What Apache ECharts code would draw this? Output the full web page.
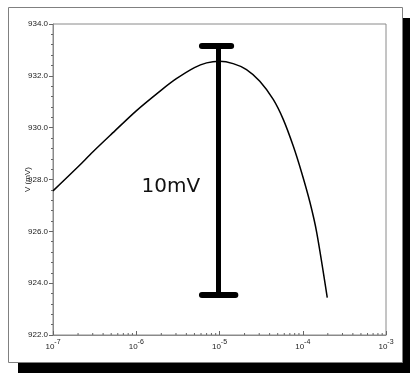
<!DOCTYPE html>
<html>
<head>
<meta charset="utf-8">
<script src="https://cdn.jsdelivr.net/npm/echarts@6/dist/echarts.min.js"></script>
<style>
html,body{margin:0;padding:0;background:#fff;}
#chart{width:410px;height:374px;}
</style>
</head>
<body>
<div id="chart"></div>
<script>
// Data
var xValues = [1e-7, 2e-7, 3e-7, 5e-7, 1e-6, 2e-6, 3e-6, 5e-6, 7e-6, 1e-5, 1.46e-5, 2.11e-5, 3.05e-5, 4.42e-5, 5.83e-5, 7.69e-5, 9.69e-5, 1.22e-4, 1.47e-4, 1.97e-4];
var vValues = [927.56, 928.49, 929.06, 929.74, 930.65, 931.45, 931.88, 932.32, 932.5, 932.56, 932.47, 932.24, 931.79, 931.09, 930.32, 929.29, 928.27, 927.12, 925.96, 923.44];
var yTicks = [922, 924, 926, 928, 930, 932, 934];
var xTickExps = [-7, -6, -5, -4, -3];
var minorXTicks = [];
[-7, -6, -5, -4].forEach(function (e) { for (var k = 2; k <= 9; k++) minorXTicks.push(k * Math.pow(10, e)); });
// annotation "10mV" bar
var barX = 9.7e-6, barLow = 923.55, barHigh = 933.18;
var capTop = [6.15e-6, 1.38e-5], capBottom = [6.15e-6, 1.55e-5];
var annotText = '10mV', annotPos = [2.6e-6, 927.7];

var chart = echarts.init(document.getElementById('chart'), null, {renderer: 'canvas'});
var font = 'Liberation Sans';
var option = {
  animation: false,
  backgroundColor: '#fff',
  graphic: [
    {type: 'rect', z: -10, shape: {x: 18, y: 18, width: 392, height: 355}, style: {fill: '#000'}},
    {type: 'rect', z: -9, shape: {x: 8.5, y: 7.5, width: 394, height: 355}, style: {fill: '#fff', stroke: '#808080', lineWidth: 1}}
  ],
  grid: {left: 53, right: 24, top: 24, bottom: 39, show: true, borderColor: '#8a8a8a', borderWidth: 1, backgroundColor: 'transparent'},
  xAxis: {
    type: 'log', logBase: 10, min: 1e-7, max: 1e-3,
    axisLine: {lineStyle: {color: '#8a8a8a', width: 1}},
    axisTick: {show: true, inside: true, length: 4, lineStyle: {color: '#666'}},
    splitLine: {show: false},
    minorTick: {show: false},
    axisLabel: {
      margin: 4, color: '#222', fontFamily: font, fontSize: 8,
      formatter: function (v) {
        var e = Math.round(Math.log10(v));
        return '{b|10}{s|' + e + '}';
      },
      rich: {
        b: {fontSize: 8, fontFamily: font, color: '#222', verticalAlign: 'bottom', padding: [4, 0, 0, 0]},
        s: {fontSize: 7, fontFamily: font, color: '#222', verticalAlign: 'top', padding: [0, 0, 4, 0]}
      }
    }
  },
  yAxis: {
    type: 'value', min: yTicks[0], max: yTicks[yTicks.length - 1], interval: 2,
    name: 'V (mV)', nameLocation: 'middle', nameGap: 21, nameMoveOverlap: false,
    nameTextStyle: {fontFamily: font, fontSize: 8, color: '#222'},
    axisLine: {show: true, lineStyle: {color: '#8a8a8a', width: 1}},
    axisTick: {show: true, length: 4, lineStyle: {color: '#666'}},
    minorTick: {show: true, splitNumber: 5, length: 2, lineStyle: {color: '#666'}},
    splitLine: {show: false},
    axisLabel: {margin: 5, color: '#222', fontFamily: font, fontSize: 8, formatter: function (v) { return v.toFixed(1); }}
  },
  series: [
    {
      type: 'line', data: xValues.map(function (x, i) { return [x, vValues[i]]; }),
      showSymbol: false, smooth: 0.3, lineStyle: {color: '#000', width: 1.5}, z: 3,
      markLine: {
        silent: true, symbol: ['none', 'none'], label: {show: false},
        data: [
          [{coord: [barX, barLow], lineStyle: {color: '#000', width: 5, type: 'solid', cap: 'butt'}}, {coord: [barX, barHigh]}],
          [{coord: [capTop[0], barHigh], lineStyle: {color: '#000', width: 6, type: 'solid', cap: 'round'}}, {coord: [capTop[1], barHigh]}],
          [{coord: [capBottom[0], barLow], lineStyle: {color: '#000', width: 6, type: 'solid', cap: 'round'}}, {coord: [capBottom[1], barLow]}]
        ]
      },
      markPoint: {
        silent: true, symbol: 'circle', symbolSize: 0,
        label: {show: true, position: 'inside', formatter: annotText, fontFamily: 'DejaVu Sans', fontSize: 20, color: '#111'},
        data: [{coord: annotPos}]
      }
    },
    {
      type: 'custom', silent: true, z: 4,
      data: minorXTicks.map(function (v) { return [v, yTicks[0]]; }),
      renderItem: function (params, api) {
        var p = api.coord([api.value(0), api.value(1)]);
        return {type: 'line', shape: {x1: p[0], y1: p[1], x2: p[0], y2: p[1] - 2}, style: {stroke: '#666', lineWidth: 1}};
      }
    }
  ]
};
chart.setOption(option);
</script>
</body>
</html>
